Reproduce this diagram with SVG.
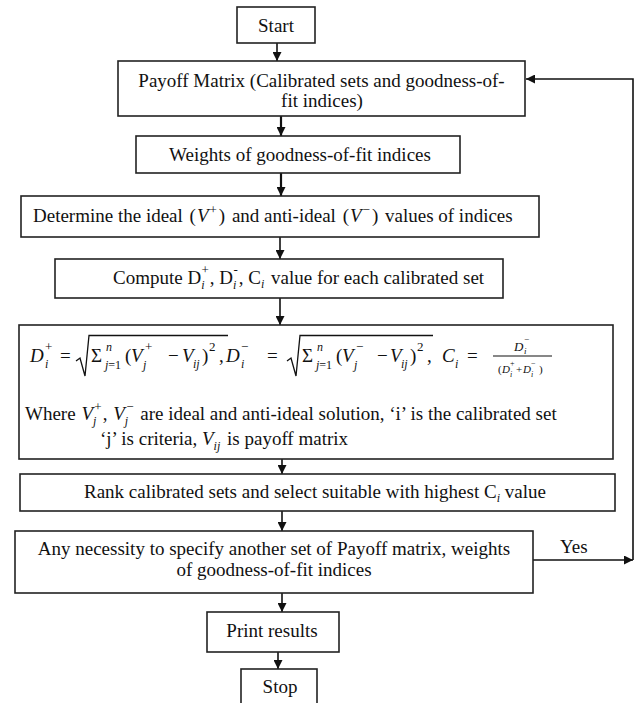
<svg xmlns="http://www.w3.org/2000/svg" width="635" height="703" viewBox="0 0 635 703">
<defs>
<style>
.box{fill:#fff;stroke:#222;stroke-width:1.6}
.t{font-family:"Liberation Serif","Times New Roman",serif;font-size:19px;fill:#111}
.c{text-anchor:middle}
.it{font-style:italic}
.sb{font-size:12px}
.sp{font-size:13px}
.f13{font-size:13px}
.f11{font-size:11px}
.f9{font-size:9px}
.f8{font-size:8px}
.conn{stroke:#111;stroke-width:1.6;fill:none}
.thick{stroke-width:2.2}
.rad{stroke:#111;stroke-width:1.3;fill:none;stroke-linejoin:miter}
.bar{stroke:#111;stroke-width:1.2}
</style>
<marker id="ah" viewBox="0 0 10 10" refX="10" refY="5" markerWidth="9" markerHeight="9" markerUnits="userSpaceOnUse" orient="auto">
<path d="M0,0 L10,5 L0,10 z" fill="#111"/>
</marker>
</defs>
<rect width="635" height="703" fill="#fff"/>

<g id="connectors">
<line class="conn" x1="277" y1="43" x2="277" y2="61" marker-end="url(#ah)"/>
<line class="conn thick" x1="281" y1="116" x2="281" y2="136" marker-end="url(#ah)"/>
<line class="conn thick" x1="281" y1="173" x2="281" y2="196" marker-end="url(#ah)"/>
<line class="conn" x1="280" y1="237" x2="280" y2="259" marker-end="url(#ah)"/>
<line class="conn" x1="280" y1="298" x2="280" y2="325" marker-end="url(#ah)"/>
<line class="conn" x1="282" y1="459" x2="282" y2="474" marker-end="url(#ah)"/>
<line class="conn" x1="282" y1="511" x2="282" y2="531" marker-end="url(#ah)"/>
<line class="conn" x1="282" y1="593" x2="282" y2="612" marker-end="url(#ah)"/>
<line class="conn" x1="278" y1="652" x2="278" y2="669" marker-end="url(#ah)"/>
<line class="conn" x1="533" y1="560" x2="633" y2="560" marker-end="url(#ah)"/>
<path class="conn" d="M633,560 L633,79 L526,79" marker-end="url(#ah)"/>
<text class="t" x="560" y="553">Yes</text>
</g>

<g id="start">
<rect class="box" x="237" y="7" width="78" height="36"/>
<text class="t c" x="276" y="32">Start</text>
</g>

<g id="payoff">
<rect class="box" x="118" y="61" width="407" height="55"/>
<text class="t c" x="321.5" y="87">Payoff Matrix (Calibrated sets and goodness-of-</text>
<text class="t c" x="322" y="107">fit indices)</text>
</g>

<g id="weights">
<rect class="box" x="136" y="136" width="324" height="37"/>
<text class="t c" x="300" y="161">Weights of goodness-of-fit indices</text>
</g>

<g id="determine">
<rect class="box" x="21" y="196" width="518" height="41"/>
<text class="t" x="33" y="222">Determine the ideal <tspan dx="2">(</tspan><tspan class="it" dx="1">V</tspan><tspan class="sp" dx="1" dy="-8">+</tspan><tspan dx="2" dy="8">)</tspan><tspan dx="2"> and anti-ideal </tspan><tspan dx="2">(</tspan><tspan class="it" dx="1">V</tspan><tspan class="sp" dx="1" dy="-8">−</tspan><tspan dx="2" dy="8">)</tspan><tspan dx="2"> values of indices</tspan></text>
</g>

<g id="compute">
<rect class="box" x="55" y="259" width="448" height="39"/>
<text class="t" x="113" y="284">Compute D<tspan class="sb it" dy="5">i</tspan><tspan class="sp" dx="-3" dy="-15">+</tspan><tspan dx="1" dy="10">, D</tspan><tspan class="sb it" dy="5">i</tspan><tspan class="sp" dx="-3" dy="-15">-</tspan><tspan dx="1" dy="10">, C</tspan><tspan class="sb it" dy="4">i</tspan><tspan dx="2" dy="-4"> value for each calibrated set</tspan></text>
</g>

<g id="formula">
<rect class="box" x="19" y="325" width="594" height="134"/>
<text class="t it" x="30" y="362">D</text>
<text class="t it sb" x="45" y="368">i</text>
<text class="t sp" x="45" y="351">+</text>
<text class="t" x="60" y="362">=</text>
<polyline class="rad" points="76,361 80,358 85,376 89,335.5 228,335.5"/>
<text class="t" x="91" y="362">Σ</text>
<text class="t sb" x="105" y="369"><tspan class="it">j</tspan>=1</text>
<text class="t it sb" x="106" y="351">n</text>
<text class="t" x="125" y="362">(</text>
<text class="t it" x="131" y="362">V</text>
<text class="t it sb" x="143" y="369">j</text>
<text class="t sp" x="145" y="351">+</text>
<text class="t" x="168" y="362">−</text>
<text class="t it" x="182" y="362">V</text>
<text class="t it sb" x="193" y="368">ij</text>
<text class="t" x="202" y="362">)</text>
<text class="t sp" x="209" y="351">2</text>
<text class="t" x="219" y="362">,</text>
<text class="t it" x="226" y="362">D</text>
<text class="t it sb" x="241" y="368">i</text>
<text class="t sp" x="241" y="351">−</text>
<text class="t" x="267" y="362">=</text>
<polyline class="rad" points="287,361 291,358 296,376 300,335.5 433,335.5"/>
<text class="t" x="302" y="362">Σ</text>
<text class="t sb" x="316" y="369"><tspan class="it">j</tspan>=1</text>
<text class="t it sb" x="317" y="351">n</text>
<text class="t" x="336" y="362">(</text>
<text class="t it" x="342" y="362">V</text>
<text class="t it sb" x="354" y="369">j</text>
<text class="t sp" x="356" y="351">−</text>
<text class="t" x="377" y="362">−</text>
<text class="t it" x="390" y="362">V</text>
<text class="t it sb" x="401" y="368">ij</text>
<text class="t" x="410" y="362">)</text>
<text class="t sp" x="417" y="351">2</text>
<text class="t" x="427" y="362">,</text>
<text class="t it" x="442" y="362">C</text>
<text class="t it sb" x="455" y="368">i</text>
<text class="t" x="467" y="362">=</text>
<text class="t it f13" x="514" y="351">D</text>
<text class="t it f9" x="524" y="354">i</text>
<text class="t f9" x="524" y="342">−</text>
<line class="bar" x1="493" y1="356" x2="552" y2="356"/>
<text class="t f11" x="498" y="373">(</text>
<text class="t it f11" x="502" y="373">D</text>
<text class="t it f8" x="510" y="377">i</text>
<text class="t f8" x="510" y="366">+</text>
<text class="t f11" x="516" y="373">+</text>
<text class="t it f11" x="523" y="373">D</text>
<text class="t it f8" x="531" y="377">i</text>
<text class="t f8" x="531" y="366">−</text>
<text class="t f11" x="539" y="373">)</text>
<text class="t" x="25" y="420">Where <tspan class="it" dx="1">V</tspan><tspan class="sb it" dy="5">j</tspan><tspan class="sp" dx="-2" dy="-14">+</tspan><tspan dx="1" dy="9">,  </tspan><tspan class="it" dx="1">V</tspan><tspan class="sb it" dy="5">j</tspan><tspan class="sp" dx="-2" dy="-14">−</tspan><tspan dx="2" dy="9"> are ideal and anti-ideal solution, ‘i’ is the calibrated set</tspan></text>
<text class="t" x="100" y="445">‘j’ is criteria, <tspan class="it">V</tspan><tspan class="sb it" dy="5">ij</tspan><tspan dx="2" dy="-5">  is payoff matrix</tspan></text>
</g>

<g id="rank">
<rect class="box" x="20" y="474" width="595" height="37"/>
<text class="t" x="84" y="498">Rank calibrated sets and select suitable with highest C<tspan class="sb it" dy="4">i</tspan><tspan dy="-4"> value</tspan></text>
</g>

<g id="decision">
<rect class="box" x="15" y="531" width="518" height="62"/>
<text class="t c" x="274" y="555">Any necessity to specify another set of Payoff matrix, weights</text>
<text class="t c" x="274" y="576">of goodness-of-fit indices</text>
</g>

<g id="print">
<rect class="box" x="207" y="612" width="132" height="40"/>
<text class="t c" x="272" y="637">Print results</text>
</g>

<g id="stop">
<rect class="box" x="241" y="669" width="76" height="40"/>
<text class="t c" x="280" y="693">Stop</text>
</g>
</svg>
